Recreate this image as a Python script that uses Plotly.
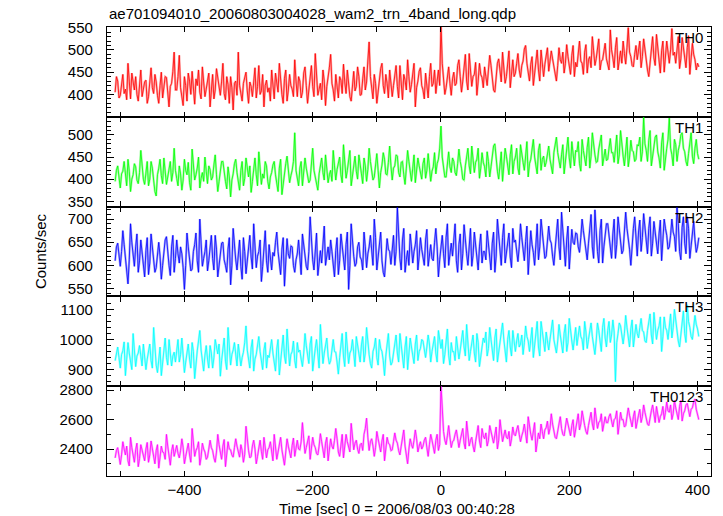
import numpy as np
import plotly.graph_objects as go
from plotly.subplots import make_subplots

# time grid (sec), 2-s bins starting at -508
t_start, t_step = -508, 2

th0 = [
    405, 440, 430, 392, 398, 425, 445, 402, 412, 388, 470, 430, 390, 448, 425, 410, 440, 400, 385, 432, 455, 395, 410, 428,
    432, 380, 395, 438, 460, 415, 402, 445, 428, 398, 380, 420, 450, 392, 415, 440, 438, 405, 372, 418, 425, 452, 495, 410,
    410, 440, 488, 415, 398, 375, 440, 420, 385, 448, 430, 400, 452, 418, 378, 435, 420, 455, 405, 390, 462, 428, 395, 412,
    428, 448, 372, 405, 445, 390, 410, 458, 435, 412, 398, 430, 470, 402, 388, 440, 422, 380, 440, 415, 365, 425, 430, 398,
    495, 420, 402, 385, 425, 440, 450, 408, 380, 428, 418, 395, 438, 460, 392, 418, 465, 400, 408, 445, 372, 420, 432, 405,
    415, 385, 455, 425, 390, 448, 428, 405, 470, 432, 400, 380, 436, 455, 385, 410, 445, 420, 412, 395, 478, 430, 395, 440,
    430, 392, 405, 448, 462, 420, 380, 410, 442, 465, 418, 395, 492, 440, 398, 412, 425, 388, 455, 430, 375, 418, 438, 460,
    490, 425, 410, 385, 445, 420, 392, 440, 432, 402, 468, 428, 402, 455, 425, 395, 385, 430, 452, 408, 418, 462, 440, 398,
    400, 435, 462, 410, 428, 475, 518, 440, 410, 390, 445, 425, 380, 412, 436, 458, 470, 420, 402, 445, 425, 392, 455, 430,
    395, 420, 440, 465, 418, 392, 465, 430, 388, 445, 432, 410, 478, 440, 405, 422, 445, 470, 372, 415, 430, 452, 460, 420,
    410, 390, 448, 425, 392, 440, 470, 418, 425, 455, 402, 430, 455, 420, 560, 470, 438, 400, 415, 448, 462, 425, 398, 435,
    450, 420, 425, 465, 478, 440, 405, 430, 462, 490, 430, 410, 492, 455, 418, 440, 445, 472, 398, 430, 470, 445, 438, 415,
    462, 440, 420, 455, 488, 465, 440, 410, 405, 445, 470, 480, 452, 428, 495, 460, 425, 440, 465, 498, 415, 450, 478, 440,
    448, 470, 492, 455, 438, 465, 475, 502, 510, 470, 445, 430, 468, 485, 420, 450, 482, 500, 455, 430, 500, 475, 440, 468,
    485, 505, 452, 470, 498, 480, 462, 440, 430, 465, 505, 478, 470, 495, 448, 470, 512, 485, 465, 445, 488, 510, 440, 472,
    462, 490, 520, 475, 470, 445, 495, 512, 448, 478, 485, 460, 530, 498, 465, 480, 500, 525, 455, 475, 478, 500, 515, 480,
    470, 455, 545, 500, 482, 460, 505, 528, 455, 480, 498, 470, 520, 492, 468, 505, 550, 495, 485, 465, 462, 490, 510, 478,
    495, 520, 460, 485, 525, 498, 478, 455, 440, 470, 505, 530, 482, 465, 535, 500, 465, 448, 498, 520, 450, 478, 520, 495,
    470, 500, 548, 488, 495, 470, 512, 530, 458, 480, 528, 505, 482, 460, 505, 532, 445, 475, 515, 490, 478, 455, 470, 462,
]
th1 = [
    395, 420, 430, 405, 380, 412, 418, 440, 402, 385, 445, 418, 372, 400, 410, 435, 428, 398, 390, 415, 465, 425, 400, 388,
    415, 440, 385, 400, 440, 425, 398, 372, 362, 410, 425, 445, 408, 390, 448, 420, 388, 405, 420, 440, 395, 415, 470, 420,
    402, 385, 430, 412, 375, 398, 445, 420, 410, 438, 392, 375, 468, 425, 398, 410, 425, 450, 380, 402, 415, 395, 450, 418,
    390, 430, 422, 398, 405, 432, 455, 410, 372, 395, 418, 440, 440, 412, 395, 378, 428, 405, 360, 398, 412, 435, 445, 415,
    398, 375, 420, 440, 385, 402, 448, 418, 405, 430, 370, 395, 425, 448, 410, 385, 462, 420, 388, 412, 402, 440, 430, 395,
    378, 405, 415, 432, 440, 410, 395, 372, 425, 445, 365, 392, 410, 435, 452, 418, 392, 408, 420, 440, 505, 420, 400, 385,
    425, 440, 385, 410, 448, 425, 410, 392, 398, 435, 470, 420, 402, 385, 375, 412, 430, 448, 415, 398, 455, 425, 392, 410,
    420, 395, 465, 430, 398, 422, 435, 450, 410, 392, 478, 440, 402, 420, 442, 465, 385, 410, 430, 452, 418, 400, 455, 428,
    412, 390, 448, 430, 395, 422, 470, 440, 422, 398, 405, 435, 458, 420, 380, 415, 432, 460, 445, 412, 410, 438, 475, 430,
    398, 425, 430, 455, 452, 415, 405, 438, 440, 410, 388, 425, 465, 440, 415, 395, 425, 455, 392, 418, 448, 430, 418, 400,
    435, 448, 402, 420, 458, 430, 395, 418, 428, 460, 412, 435, 445, 470, 520, 450, 430, 405, 405, 440, 462, 428, 415, 448,
    440, 415, 408, 435, 468, 440, 425, 400, 398, 430, 452, 470, 430, 412, 475, 445, 415, 438, 445, 470, 402, 425, 460, 438,
    428, 405, 462, 440, 405, 428, 448, 475, 480, 445, 418, 400, 440, 462, 395, 425, 470, 452, 432, 410, 455, 478, 412, 440,
    450, 470, 425, 410, 478, 452, 438, 420, 462, 485, 405, 435, 445, 465, 490, 450, 430, 412, 465, 480, 420, 445, 452, 428,
    438, 460, 475, 445, 428, 412, 460, 482, 495, 460, 440, 425, 455, 478, 412, 440, 470, 495, 448, 425, 485, 458, 430, 465,
    462, 485, 435, 418, 490, 465, 448, 430, 472, 495, 425, 452, 505, 470, 455, 438, 440, 468, 482, 500, 430, 455, 468, 442,
    445, 470, 492, 460, 460, 438, 478, 500, 435, 455, 510, 475, 452, 430, 470, 495, 428, 450, 488, 465, 462, 440, 445, 478,
    475, 495, 440, 462, 540, 480, 465, 440, 488, 510, 430, 455, 472, 495, 500, 462, 448, 425, 482, 505, 420, 450, 470, 490,
    538, 470, 455, 430, 490, 478, 440, 465, 478, 500, 505, 470, 462, 440, 430, 458, 485, 505, 452, 435, 470, 490, 458, 445,
]
th2 = [
    610, 640, 648, 620, 598, 630, 675, 645, 620, 590, 560, 612, 690, 650, 615, 598, 640, 668, 585, 610, 655, 630, 605, 575,
    632, 660, 580, 605, 668, 640, 612, 585, 595, 632, 650, 620, 570, 600, 628, 655, 662, 625, 600, 578, 640, 665, 585, 615,
    655, 625, 605, 640, 625, 595, 548, 600, 670, 640, 615, 588, 592, 630, 645, 670, 610, 585, 700, 640, 598, 615, 630, 655,
    588, 610, 642, 665, 615, 590, 665, 635, 575, 605, 620, 648, 650, 612, 600, 585, 635, 660, 558, 600, 680, 640, 612, 590,
    625, 655, 598, 570, 660, 630, 582, 610, 640, 665, 618, 592, 690, 640, 595, 620, 630, 655, 565, 598, 648, 675, 610, 585,
    645, 615, 590, 628, 620, 650, 672, 630, 600, 580, 635, 660, 555, 605, 658, 625, 615, 642, 640, 600, 585, 612, 625, 655,
    605, 580, 668, 640, 620, 598, 590, 630, 705, 655, 612, 590, 645, 670, 578, 610, 632, 605, 660, 685, 600, 625, 640, 612,
    655, 630, 598, 575, 632, 660, 580, 610, 668, 640, 615, 590, 645, 672, 548, 600, 690, 650, 620, 598, 605, 640, 650, 618,
    612, 590, 672, 640, 595, 625, 640, 665, 625, 600, 700, 660, 590, 615, 645, 672, 610, 585, 575, 620, 658, 635, 630, 602,
    640, 665, 600, 630, 725, 660, 615, 590, 655, 680, 585, 612, 632, 600, 668, 640, 605, 630, 645, 675, 590, 620, 660, 635,
    620, 600, 655, 678, 598, 625, 645, 615, 610, 650, 680, 640, 575, 612, 640, 665, 625, 595, 660, 690, 600, 628, 648, 620,
    662, 690, 610, 585, 645, 668, 590, 625, 688, 650, 625, 600, 650, 680, 598, 622, 672, 640, 615, 590, 640, 668, 605, 630,
    630, 612, 675, 645, 612, 590, 648, 672, 585, 620, 700, 660, 625, 600, 660, 690, 605, 628, 642, 670, 618, 595, 680, 650,
    655, 625, 608, 640, 690, 660, 632, 610, 652, 685, 580, 622, 675, 645, 628, 600, 660, 690, 612, 640, 700, 665, 640, 615,
    620, 650, 685, 655, 648, 620, 600, 635, 672, 700, 640, 612, 715, 668, 625, 598, 655, 685, 592, 630, 678, 650, 645, 670,
    668, 640, 628, 660, 700, 675, 652, 622, 612, 648, 685, 710, 640, 615, 720, 670, 630, 605, 675, 700, 605, 640, 660, 690,
    690, 662, 640, 615, 668, 700, 615, 645, 705, 672, 650, 625, 632, 668, 715, 680, 662, 635, 600, 648, 680, 705, 648, 620,
    672, 698, 630, 660, 712, 680, 655, 625, 680, 705, 620, 648, 695, 668, 650, 625, 668, 698, 610, 645, 700, 680, 665, 635,
    640, 665, 700, 672, 662, 630, 725, 690, 630, 612, 682, 705, 648, 625, 705, 680, 615, 642, 670, 695, 655, 628, 640, 660,
]
th3 = [
    930, 960, 975, 940, 905, 950, 962, 992, 880, 935, 990, 955, 925, 900, 1020, 965, 910, 945, 955, 980, 935, 912, 985, 950,
    900, 935, 960, 985, 930, 905, 1040, 970, 915, 890, 950, 975, 880, 930, 975, 1005, 940, 915, 1000, 960, 912, 945, 958, 925,
    968, 1000, 925, 950, 1005, 960, 890, 925, 955, 985, 935, 905, 990, 960, 870, 930, 962, 995, 1030, 965, 920, 895, 948, 980,
    935, 905, 980, 955, 905, 940, 1000, 970, 952, 985, 878, 930, 970, 1005, 928, 900, 1040, 975, 915, 950, 965, 990, 940, 912,
    985, 950, 912, 940, 958, 990, 1045, 965, 930, 905, 972, 1000, 895, 935, 950, 985, 1010, 960, 925, 900, 965, 990, 905, 948,
    940, 975, 1000, 955, 920, 895, 968, 1000, 882, 935, 985, 1015, 945, 920, 1035, 975, 912, 950, 960, 995, 930, 905, 990, 958,
    965, 935, 910, 955, 1020, 980, 950, 920, 985, 1010, 895, 940, 970, 1000, 935, 905, 1050, 980, 920, 955, 975, 1005, 945, 918,
    930, 965, 1000, 960, 958, 925, 885, 940, 990, 1020, 945, 910, 1025, 975, 920, 955, 965, 1000, 940, 910, 1010, 975, 955, 925,
    982, 1010, 925, 955, 1040, 990, 950, 920, 905, 960, 975, 1005, 940, 915, 1000, 970, 960, 930, 880, 945, 995, 1020, 945, 915,
    925, 960, 990, 1015, 955, 925, 1020, 985, 935, 905, 975, 1010, 900, 950, 1005, 975, 950, 920, 985, 1015, 930, 960, 970, 1000,
    995, 960, 940, 975, 1015, 985, 925, 960, 980, 1010, 955, 925, 1030, 990, 970, 1000, 920, 950, 1005, 1035, 948, 915, 990, 960,
    960, 930, 1010, 975, 935, 965, 1000, 1030, 975, 945, 1050, 1000, 930, 960, 985, 1015, 955, 925, 1020, 990, 910, 950, 975, 1005,
    990, 1025, 945, 970, 1040, 1000, 960, 930, 1005, 1035, 925, 960, 980, 1010, 1055, 1000, 950, 925, 1000, 1030, 975, 945, 1030, 990,
    960, 995, 1020, 975, 985, 1015, 950, 990, 1045, 1010, 995, 960, 1010, 1040, 940, 975, 1030, 1060, 975, 945, 1060, 1020, 990, 960,
    1025, 990, 965, 1000, 1040, 1065, 1000, 975, 955, 995, 1050, 1015, 985, 955, 1020, 1050, 960, 990, 1070, 1025, 995, 965, 1010, 1040,
    980, 1015, 1045, 1010, 1000, 965, 1060, 1025, 970, 1000, 1025, 1055, 1010, 980, 950, 995, 1055, 1030, 990, 960, 1040, 1070, 1005, 975,
    1030, 1060, 990, 1015, 1065, 1025, 860, 990, 1020, 1055, 1045, 1010, 985, 1020, 1080, 1040, 1010, 975, 1035, 1065, 975, 1005, 1050, 1020,
    1005, 1040, 1070, 1030, 1025, 995, 990, 1030, 1060, 1085, 1015, 985, 1090, 1045, 1000, 1030, 1045, 1075, 960, 1010, 1075, 1040, 1030, 1000,
    1050, 1085, 1005, 1040, 1100, 1060, 1030, 995, 975, 1020, 1065, 1095, 1020, 990, 1115, 1060, 1040, 1010, 1000, 1045, 1080, 1050, 1035, 1010,
]
th0123 = [
    2340, 2390, 2410, 2350, 2295, 2360, 2450, 2400, 2360, 2420, 2320, 2285, 2480, 2410, 2345, 2310, 2395, 2440, 2280, 2335, 2430, 2390, 2370, 2320,
    2400, 2445, 2310, 2360, 2455, 2400, 2350, 2300, 2390, 2430, 2270, 2340, 2420, 2380, 2375, 2330, 2500, 2420, 2330, 2290, 2385, 2430, 2350, 2400,
    2425, 2370, 2340, 2390, 2470, 2410, 2300, 2350, 2395, 2440, 2360, 2310, 2540, 2430, 2350, 2390, 2410, 2450, 2290, 2345, 2440, 2400, 2380, 2330,
    2345, 2400, 2460, 2410, 2390, 2340, 2310, 2380, 2500, 2430, 2370, 2330, 2420, 2465, 2280, 2350, 2450, 2400, 2395, 2360, 2345, 2410, 2470, 2420,
    2380, 2345, 2430, 2390, 2310, 2365, 2555, 2440, 2390, 2340, 2350, 2420, 2460, 2400, 2300, 2350, 2420, 2460, 2385, 2330, 2480, 2420, 2340, 2395,
    2410, 2450, 2360, 2320, 2500, 2430, 2330, 2380, 2440, 2480, 2395, 2350, 2290, 2380, 2470, 2420, 2380, 2340, 2425, 2475, 2350, 2410, 2460, 2400,
    2395, 2450, 2580, 2470, 2370, 2410, 2445, 2490, 2330, 2390, 2480, 2430, 2410, 2370, 2360, 2420, 2505, 2450, 2385, 2340, 2440, 2480, 2320, 2390,
    2470, 2420, 2400, 2460, 2540, 2470, 2380, 2350, 2450, 2500, 2340, 2410, 2500, 2450, 2420, 2380, 2575, 2480, 2395, 2440, 2460, 2400, 2370, 2430,
    2440, 2390, 2500, 2540, 2610, 2480, 2390, 2450, 2470, 2420, 2350, 2410, 2520, 2470, 2410, 2380, 2455, 2500, 2320, 2390, 2480, 2440, 2430, 2390,
    2395, 2450, 2510, 2460, 2440, 2390, 2360, 2420, 2490, 2530, 2420, 2370, 2300, 2400, 2470, 2430, 2405, 2460, 2530, 2470, 2380, 2420, 2450, 2400,
    2420, 2460, 2480, 2410, 2350, 2430, 2500, 2460, 2410, 2370, 2460, 2500, 2390, 2430, 2840, 2620, 2520, 2460, 2430, 2490, 2560, 2480, 2410, 2450,
    2460, 2500, 2530, 2470, 2410, 2460, 2500, 2540, 2440, 2400, 2590, 2510, 2420, 2460, 2480, 2420, 2380, 2450, 2510, 2560, 2455, 2410, 2540, 2490,
    2470, 2510, 2420, 2460, 2560, 2510, 2480, 2440, 2510, 2550, 2400, 2460, 2600, 2530, 2450, 2490, 2530, 2480, 2470, 2520, 2420, 2470, 2550, 2500,
    2490, 2530, 2560, 2500, 2450, 2490, 2520, 2570, 2480, 2440, 2620, 2550, 2500, 2460, 2540, 2580, 2380, 2450, 2510, 2470, 2570, 2520, 2470, 2530,
    2545, 2590, 2500, 2540, 2640, 2570, 2520, 2480, 2470, 2530, 2580, 2620, 2540, 2500, 2490, 2550, 2610, 2570, 2530, 2490, 2560, 2600, 2480, 2530,
    2590, 2640, 2530, 2570, 2660, 2600, 2560, 2520, 2500, 2560, 2610, 2650, 2570, 2530, 2680, 2610, 2540, 2580, 2590, 2640, 2520, 2570, 2620, 2580,
    2580, 2620, 2640, 2590, 2550, 2600, 2610, 2660, 2500, 2570, 2650, 2600, 2600, 2550, 2560, 2620, 2680, 2630, 2590, 2550, 2620, 2660, 2540, 2600,
    2630, 2670, 2580, 2620, 2700, 2650, 2610, 2570, 2560, 2620, 2660, 2700, 2620, 2580, 2690, 2640, 2580, 2620, 2640, 2690, 2600, 2650, 2720, 2660,
    2650, 2700, 2600, 2640, 2730, 2680, 2640, 2600, 2690, 2730, 2590, 2640, 2660, 2700, 2710, 2650, 2620, 2670, 2680, 2720, 2740, 2670, 2640, 2600,
]

names = ["TH0", "TH1", "TH2", "TH3", "TH0123"]
series = [th0, th1, th2, th3, th0123]
colors = ["#ff0000", "#00ff00", "#0000ff", "#00ffff", "#ff00ff"]
y_ranges = [[349.8, 551.5], [338, 541], [533, 727], [845, 1143], [2217, 2827]]
y_ticks = [[400, 450, 500, 550], [350, 400, 450, 500], [550, 600, 650, 700],
           [900, 1000, 1100], [2400, 2600, 2800]]
y_minor = [10, 10, 10, 20, 100]
x_ticks = list(range(-500, 401, 100))
x_text = [("\u2212" + str(-v) if v < 0 else str(v)) if v % 200 == 0 else "" for v in x_ticks]

FONT = "Liberation Sans, Arial, Helvetica, sans-serif"

fig = make_subplots(rows=5, cols=1, shared_xaxes=True, vertical_spacing=0)

for i, (nm, ys, col) in enumerate(zip(names, series, colors)):
    r = i + 1
    times = t_start + t_step * np.arange(len(ys))
    # light halo (error-bar look)
    fig.add_trace(go.Scatter(x=times, y=ys, mode="lines",
                             line=dict(color=col, width=2.2), opacity=0.35,
                             hoverinfo="skip", showlegend=False), row=r, col=1)
    fig.add_trace(go.Scatter(x=times, y=ys, mode="lines", name=nm,
                             line=dict(color=col, width=0.8), showlegend=False),
                  row=r, col=1)
    fig.update_yaxes(range=y_ranges[i], tickmode="array", tickvals=y_ticks[i],
                     ticks="inside", ticklen=7, tickwidth=1, tickcolor="black",
                     minor=dict(ticks="inside", dtick=y_minor[i], tick0=0,
                                ticklen=3.5, tickcolor="black"),
                     showline=True, linecolor="black", linewidth=1.3, mirror="ticks",
                     showgrid=False, zeroline=False, ticklabelstandoff=10,
                     tickfont=dict(family=FONT, size=15, color="black"),
                     row=r, col=1)
    fig.update_xaxes(range=[-520.7, 421], tickmode="array", tickvals=x_ticks,
                     ticktext=x_text, ticks="inside", ticklen=5, tickcolor="black",
                     showline=True, linecolor="black", linewidth=1.3, mirror="ticks",
                     showgrid=False, zeroline=False,
                     showticklabels=(r == 5),
                     tickfont=dict(family=FONT, size=15, color="black"),
                     row=r, col=1)
    yref = "y domain" if r == 1 else f"y{r} domain"
    fig.add_annotation(x=0.99, y=1.0, xref="x domain", yref=yref,
                       text=nm, showarrow=False, xanchor="right", yanchor="top",
                       font=dict(family=FONT, size=15, color="black"))

fig.add_annotation(x=0, y=1, xref="paper", yref="paper", yshift=3,
                   text="ae701094010_20060803004028_wam2_trn_4band_long.qdp",
                   showarrow=False, xanchor="left", yanchor="bottom",
                   font=dict(family=FONT, size=15, color="black"))
fig.add_annotation(x=-0.11, y=0.5, xref="paper", yref="paper",
                   text="Counts/sec", textangle=-90, showarrow=False,
                   xanchor="center", yanchor="middle",
                   font=dict(family=FONT, size=15, color="black"))
fig.add_annotation(x=0.48, y=0, xref="paper", yref="paper", yshift=-22,
                   text="Time [sec] 0 = 2006/08/03 00:40:28", showarrow=False,
                   xanchor="center", yanchor="top",
                   font=dict(family=FONT, size=15, color="black"))

fig.update_layout(width=723, height=516, margin=dict(l=107, r=12, t=27, b=40),
                  paper_bgcolor="white", plot_bgcolor="white",
                  font=dict(family=FONT, color="black"))

fig.write_html("out.html", config={"displayModeBar": False},
               post_script="document.body.style.margin='0px';")
